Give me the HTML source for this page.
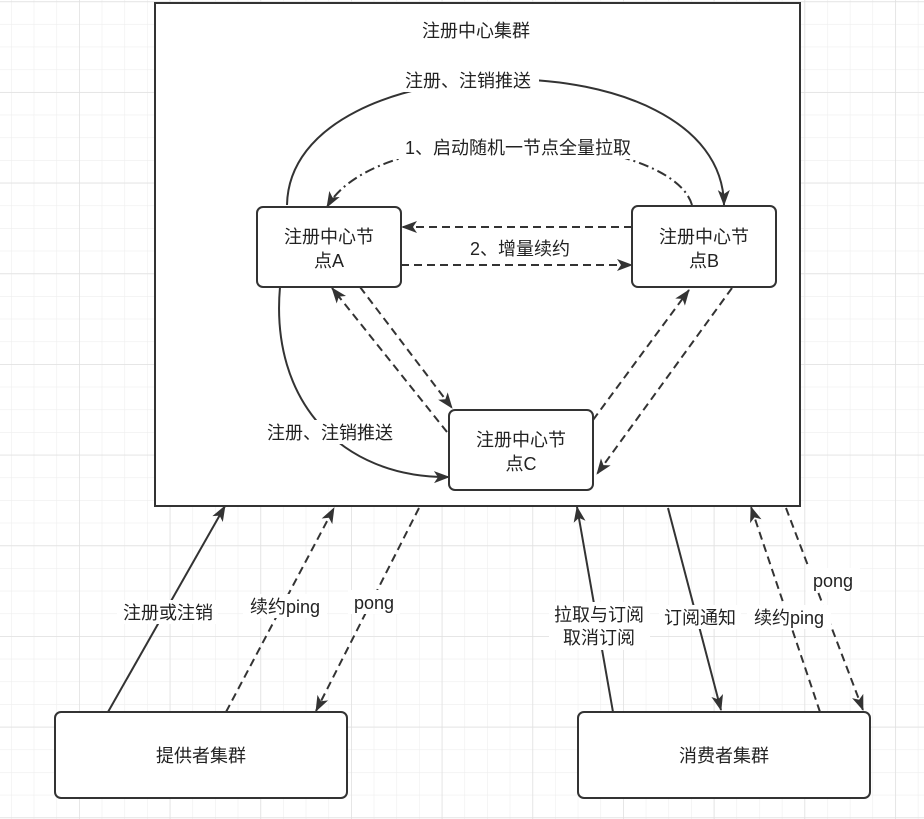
<!DOCTYPE html>
<html><head><meta charset="utf-8"><style>
html,body{margin:0;padding:0;background:#fff;}
svg{display:block;}
text{font-family:"Liberation Sans","Noto Sans CJK SC",sans-serif;font-size:18px;fill:#222;}
</style></head><body>
<svg width="924" height="819" viewBox="0 0 924 819" xmlns="http://www.w3.org/2000/svg">
<defs>
<pattern id="minor" x="11" y="1.3" width="22.67" height="22.67" patternUnits="userSpaceOnUse">
<path d="M0 0V22.67M0 0H22.67" stroke="#eeeeee" stroke-width="1.2" fill="none"/>
</pattern>
<pattern id="major" x="79" y="92" width="90.67" height="90.67" patternUnits="userSpaceOnUse">
<path d="M0 0V90.67M0 0H90.67" stroke="#e0e0e0" stroke-width="1.5" fill="none"/>
</pattern>
<marker id="ar" markerWidth="16" markerHeight="16" refX="15" refY="8" orient="auto" markerUnits="userSpaceOnUse" viewBox="0 0 16 16">
<path d="M0 2L16 8L0 14L4 8Z" fill="#333"/>
</marker>
</defs>
<rect width="924" height="819" fill="url(#minor)"/>
<rect width="924" height="819" fill="url(#major)"/>
<g stroke="#333" stroke-width="2" fill="#fff">
<rect x="155" y="3" width="645" height="503"/>
</g>
<g stroke="#333" stroke-width="2" fill="none">
<path d="M287 205 C290 40 722 35 724 205" marker-end="url(#ar)"/>
<path d="M692 205 C670 130 380 115 327 207" stroke-dasharray="10 4 2 4" marker-end="url(#ar)"/>
<path d="M632 227 H402" stroke-dasharray="8 5" marker-end="url(#ar)"/>
<path d="M401 265 H632" stroke-dasharray="8 5" marker-end="url(#ar)"/>
<path d="M360 287 L452 408" stroke-dasharray="8 5" marker-end="url(#ar)"/>
<path d="M447 432 L332 288" stroke-dasharray="8 5" marker-end="url(#ar)"/>
<path d="M593 420 L689 290" stroke-dasharray="8 5" marker-end="url(#ar)"/>
<path d="M732 288 L597 474" stroke-dasharray="8 5" marker-end="url(#ar)"/>
<path d="M280 287 C270 400 340 478 449 477" marker-end="url(#ar)"/>
<path d="M108 712 L225 506" marker-end="url(#ar)"/>
<path d="M226 712 L334 508" stroke-dasharray="8 5" marker-end="url(#ar)"/>
<path d="M419 508 L316 711" stroke-dasharray="8 5" marker-end="url(#ar)"/>
<path d="M613 712 L577 507" marker-end="url(#ar)"/>
<path d="M668 508 L721 710" marker-end="url(#ar)"/>
<path d="M820 712 L751 507" stroke-dasharray="8 5" marker-end="url(#ar)"/>
<path d="M786 508 L863 710" stroke-dasharray="8 5" marker-end="url(#ar)"/>
</g>
<g stroke="#333" stroke-width="2" fill="#fff">
<rect x="257" y="207" width="144" height="80" rx="6"/>
<rect x="632" y="206" width="144" height="81" rx="6"/>
<rect x="449" y="410" width="144" height="80" rx="6"/>
<rect x="55" y="712" width="292" height="86" rx="6"/>
<rect x="578" y="712" width="292" height="86" rx="6"/>
</g>
<g fill="#fff">
<rect x="399" y="68" width="140" height="24"/>
<rect x="393" y="135" width="250" height="24"/>
<rect x="464" y="236" width="114" height="24"/>
<rect x="260" y="420" width="142" height="24"/>
<rect x="117" y="600" width="101" height="24"/>
<rect x="243" y="594" width="84" height="24"/>
<rect x="348" y="590" width="52" height="24"/>
<rect x="549" y="602" width="101" height="48"/>
<rect x="659" y="605" width="82" height="24"/>
<rect x="747" y="605" width="84" height="24"/>
<rect x="806" y="568" width="54" height="24"/>
</g>
<g text-anchor="middle">
<text x="476" y="37">注册中心集群</text>
<text x="468" y="87">注册、注销推送</text>
<text x="518" y="154">1、启动随机一节点全量拉取</text>
<text x="520" y="255">2、增量续约</text>
<text x="330" y="439">注册、注销推送</text>
<text x="329" y="243">注册中心节</text>
<text x="329" y="267">点A</text>
<text x="704" y="243">注册中心节</text>
<text x="704" y="267">点B</text>
<text x="521" y="446">注册中心节</text>
<text x="521" y="470">点C</text>
<text x="168" y="619">注册或注销</text>
<text x="285" y="613">续约ping</text>
<text x="374" y="609">pong</text>
<text x="599" y="621">拉取与订阅</text>
<text x="599" y="644">取消订阅</text>
<text x="700" y="624">订阅通知</text>
<text x="789" y="624">续约ping</text>
<text x="833" y="587">pong</text>
<text x="201" y="762">提供者集群</text>
<text x="724" y="762">消费者集群</text>
</g>
</svg>
</body></html>
